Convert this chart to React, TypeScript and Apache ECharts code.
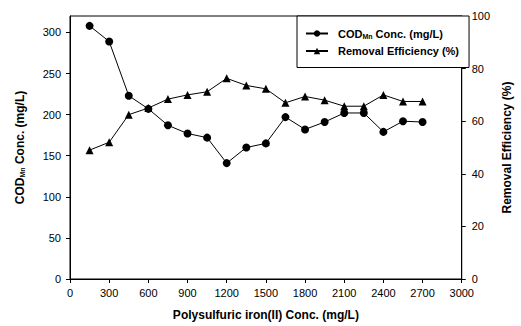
import React, { useEffect, useRef } from "react";
import * as echarts from "echarts";

const xValues = [150, 300, 450, 600, 750, 900, 1050, 1200, 1350, 1500, 1650, 1800, 1950, 2100, 2250, 2400, 2550, 2700];
const codValues = [308, 289, 223, 207, 187, 177, 172, 141, 160, 165, 197, 182, 191, 202, 202, 179, 192, 191];
const removalValues = [49, 52, 62.5, 65, 68.4, 70, 71.2, 76.3, 73.6, 72.3, 67, 69.4, 68, 65.7, 65.7, 70, 67.5, 67.5];

const codName = "COD_Mn Conc. (mg/L)";
const removalName = "Removal Efficiency (%)";

const FONT = "'Liberation Sans', Arial, sans-serif";

export default function App() {
  const ref = useRef<HTMLDivElement>(null);
  useEffect(() => {
    if (!ref.current) return;
    const chart = echarts.init(ref.current, null, { renderer: "svg" });
    const subRich = {
      sub: { fontSize: 7, fontWeight: "bold", fontFamily: FONT, color: "#000", padding: [5, 0, 0, 0] },
    };
    const plain = (v: number) => String(v);
    chart.setOption({
      animation: false,
      backgroundColor: "#fff",
      textStyle: { fontFamily: FONT },
      grid: { left: 70, right: 49, top: 16, bottom: 45, show: true, borderColor: "#000", borderWidth: 1 },
      legend: {
        orient: "vertical",
        left: 297,
        top: 16,
        padding: [12, 10, 11, 8],
        itemGap: 6,
        itemWidth: 22,
        itemHeight: 8,
        borderColor: "#000",
        borderWidth: 1,
        backgroundColor: "#fff",
        data: [codName, removalName],
        formatter: (n: string) => (n === codName ? "COD{sub|Mn} Conc. (mg/L)" : n),
        textStyle: { fontSize: 11, fontWeight: "bold", color: "#000", fontFamily: FONT, padding: [0, 0, 0, 5], rich: subRich },
      },
      xAxis: {
        type: "value",
        min: 0,
        max: 3000,
        interval: 300,
        name: "Polysulfuric iron(II) Conc. (mg/L)",
        nameLocation: "middle",
        nameGap: 30,
        nameTextStyle: { fontSize: 12, fontWeight: "bold", color: "#000", fontFamily: FONT },
        axisLine: { lineStyle: { color: "#000", width: 1 } },
        axisTick: { length: 4, lineStyle: { color: "#000" } },
        axisLabel: { fontSize: 11, color: "#000", margin: 8, fontFamily: FONT, formatter: plain },
        splitLine: { show: false },
      },
      yAxis: [
        {
          type: "value",
          min: 0,
          max: 320,
          interval: 50,
          position: "left",
          name: "COD{sub|Mn} Conc. (mg/L)",
          nameLocation: "middle",
          nameRotate: 90,
          nameGap: 44,
          nameTextStyle: { fontSize: 12, fontWeight: "bold", color: "#000", fontFamily: FONT, rich: subRich },
          axisLine: { show: true, lineStyle: { color: "#000", width: 1 } },
          axisTick: { show: true, length: 4, lineStyle: { color: "#000" } },
          axisLabel: { fontSize: 11, color: "#000", margin: 9, showMaxLabel: false, fontFamily: FONT, formatter: plain },
          splitLine: { show: false },
        },
        {
          type: "value",
          min: 0,
          max: 100,
          interval: 20,
          position: "right",
          name: "Removal Efficiency (%)",
          nameLocation: "middle",
          nameRotate: 90,
          nameGap: 33,
          nameTextStyle: { fontSize: 12, fontWeight: "bold", color: "#000", fontFamily: FONT },
          axisLine: { show: true, lineStyle: { color: "#000", width: 1 } },
          axisTick: { show: true, length: 4, lineStyle: { color: "#000" } },
          axisLabel: { fontSize: 11, color: "#000", margin: 10, fontFamily: FONT, formatter: plain },
          splitLine: { show: false },
        },
      ],
      series: [
        {
          name: codName,
          type: "line",
          yAxisIndex: 0,
          data: xValues.map((x, i) => [x, codValues[i]]),
          symbol: "circle",
          symbolSize: 8,
          itemStyle: { color: "#000" },
          lineStyle: { color: "#000", width: 1 },
        },
        {
          name: removalName,
          type: "line",
          yAxisIndex: 1,
          data: xValues.map((x, i) => [x, removalValues[i]]),
          symbol: "triangle",
          symbolSize: 8,
          itemStyle: { color: "#000" },
          lineStyle: { color: "#000", width: 1 },
        },
      ],
    });
    return () => chart.dispose();
  }, []);
  return <div ref={ref} style={{ width: 521, height: 326, position: "fixed", left: 0, top: 0 }} />;
}
